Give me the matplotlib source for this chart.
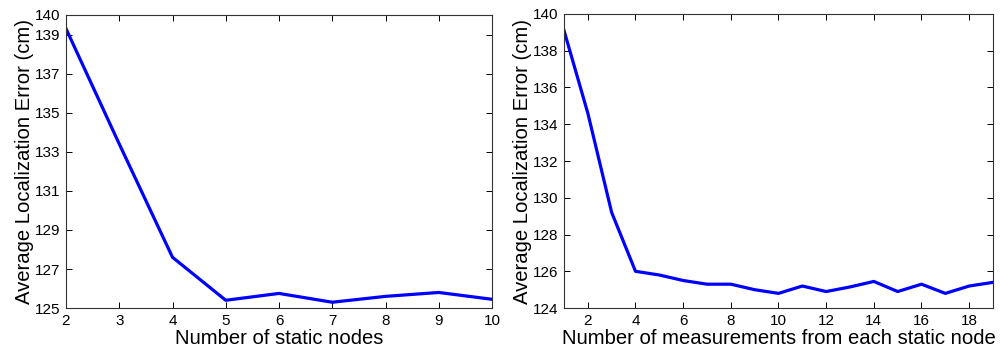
import matplotlib
matplotlib.use("Agg")
import matplotlib.pyplot as plt

plt.rcParams['font.family'] = ['Liberation Sans', 'DejaVu Sans']

nodes_x = [2, 3, 4, 5, 6, 7, 8, 9, 10]
nodes_err = [139.3, 133.4, 127.6, 125.4, 125.75, 125.3, 125.6, 125.8, 125.45]
nodes_yticks = [125, 127, 129, 131, 133, 135, 137, 139, 140]

meas_x = list(range(1, 20))
meas_err = [139.1, 134.6, 129.2, 126.0, 125.8, 125.5, 125.3, 125.3, 125.0, 124.8,
            125.2, 124.9, 125.15, 125.45, 124.9, 125.3, 124.8, 125.2, 125.4]
meas_yticks = [124, 126, 128, 130, 132, 134, 136, 138, 140]
meas_xticks = [2, 4, 6, 8, 10, 12, 14, 16, 18]

fig = plt.figure(figsize=(10, 3.57), dpi=100)
ax1 = fig.add_axes([0.066, 0.137, 0.426, 0.821])
ax2 = fig.add_axes([0.564, 0.137, 0.429, 0.824])

ax1.plot(nodes_x, nodes_err, color='#0000FF', lw=2.3)
ax1.set_xlim(2, 10)
ax1.set_ylim(125, 140)
ax1.set_yticks(nodes_yticks)
ax1.set_xticks(nodes_x)
ax1.set_xlabel('Number of static nodes', fontsize=14.6, labelpad=1)
ax1.set_ylabel('Average Localization Error (cm)', fontsize=14.6, labelpad=1)

ax2.plot(meas_x, meas_err, color='#0000FF', lw=2.3)
ax2.set_xlim(1, 19)
ax2.set_ylim(124, 140)
ax2.set_yticks(meas_yticks)
ax2.set_xticks(meas_xticks)
ax2.set_xlabel('Number of measurements from each static node', fontsize=14.6, labelpad=1)
ax2.set_ylabel('Average Localization Error (cm)', fontsize=14.6, labelpad=1)

for ax in (ax1, ax2):
    ax.tick_params(direction='in', top=True, right=True, labelsize=11, length=4, width=0.7, pad=4)
    for s in ax.spines.values():
        s.set_linewidth(0.8)
        s.set_color('#333333')

fig.savefig('out.png', dpi=100)
